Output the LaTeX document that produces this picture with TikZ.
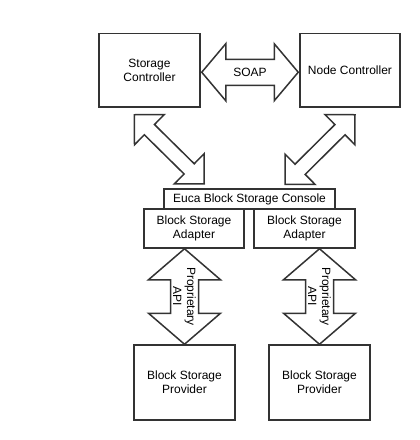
\documentclass[tikz,border=0pt]{standalone}
\usepackage{fontspec}
\setmainfont{Liberation Sans}
\usetikzlibrary{calc}
\definecolor{linegray}{HTML}{333333}
\newcommand\blockarrow[5]{%
  \draw[barrow] (#1)
    -- ($(#1)!#4!(#2)!#5!90:(#2)$)
    -- ($(#1)!#4!(#2)!#3!90:(#2)$)
    -- ($(#2)!#4!(#1)!#3!-90:(#1)$)
    -- ($(#2)!#4!(#1)!#5!-90:(#1)$)
    -- (#2)
    -- ($(#2)!#4!(#1)!#5!90:(#1)$)
    -- ($(#2)!#4!(#1)!#3!90:(#1)$)
    -- ($(#1)!#4!(#2)!#3!-90:(#2)$)
    -- ($(#1)!#4!(#2)!#5!-90:(#2)$)
    -- cycle;}
\begin{document}
\begin{tikzpicture}[x=1pt,y=-1pt,
  every node/.style={font=\fontsize{12}{14}\selectfont},
  box/.style={draw=linegray,line width=1.5pt,fill=white,inner sep=0pt,align=center},
  barrow/.style={draw=linegray,line width=1.5pt,fill=white,line join=miter}]
\useasboundingbox[fill=white] (0,0) rectangle (420,440);
% boxes
\node[box,minimum width=101pt,minimum height=73.5pt] (sc) at (149.5,70.25) {Storage\\Controller};
\node[box,minimum width=100pt,minimum height=73.5pt] (nc) at (350,70.25) {Node Controller};
\node[box,minimum width=171pt,minimum height=20pt] (console) at (249.5,199) {Euca Block Storage Console};
\node[box,minimum width=100pt,minimum height=39pt] (al) at (194,228.5) {Block Storage\\Adapter};
\node[box,minimum width=101pt,minimum height=39pt] (ar) at (304.5,228.5) {Block Storage\\Adapter};
\node[box,minimum width=101pt,minimum height=75pt] (pl) at (184.5,382.5) {Block Storage\\Provider};
\node[box,minimum width=101pt,minimum height=75pt] (pr) at (319.5,382.5) {Block Storage\\Provider};
% connector end points
\coordinate (soapA) at ($(sc.east)+(1,2)$);
\coordinate (soapB) at ($(nc.west)+(-1,2)$);
\coordinate (dA1) at ($(sc.south)+(-15.2,7)$);
\coordinate (dB1) at ($(console.north west)+(41,-4.5)$);
\coordinate (dA2) at ($(nc.south)+(5,7)$);
\coordinate (dB2) at ($(console.north east)+(-50.7,-4)$);
\coordinate (vA1) at (pl.north |- al.south);
\coordinate (vB1) at (pl.north);
\coordinate (vA2) at (pr.north |- ar.south);
\coordinate (vB2) at (pr.north);
% block arrows
\blockarrow{soapA}{soapB}{13pt}{24pt}{28.5pt}
\node (soap) at ($(soapA)!0.5!(soapB)$) {SOAP};
\blockarrow{dA1}{dB1}{7.2pt}{21.2pt}{21.2pt}
\blockarrow{dA2}{dB2}{7.2pt}{21.2pt}{21.2pt}
\blockarrow{vA1}{vB1}{14pt}{31pt}{36pt}
\blockarrow{vA2}{vB2}{14pt}{31pt}{36pt}
\node[rotate=-90,align=center,inner sep=0pt] (api1) at ($(vA1)!0.5!(vB1)$) {Proprietary\\API};
\node[rotate=-90,align=center,inner sep=0pt] (api2) at ($(vA2)!0.5!(vB2)$) {Proprietary\\API};
\end{tikzpicture}
\end{document}
